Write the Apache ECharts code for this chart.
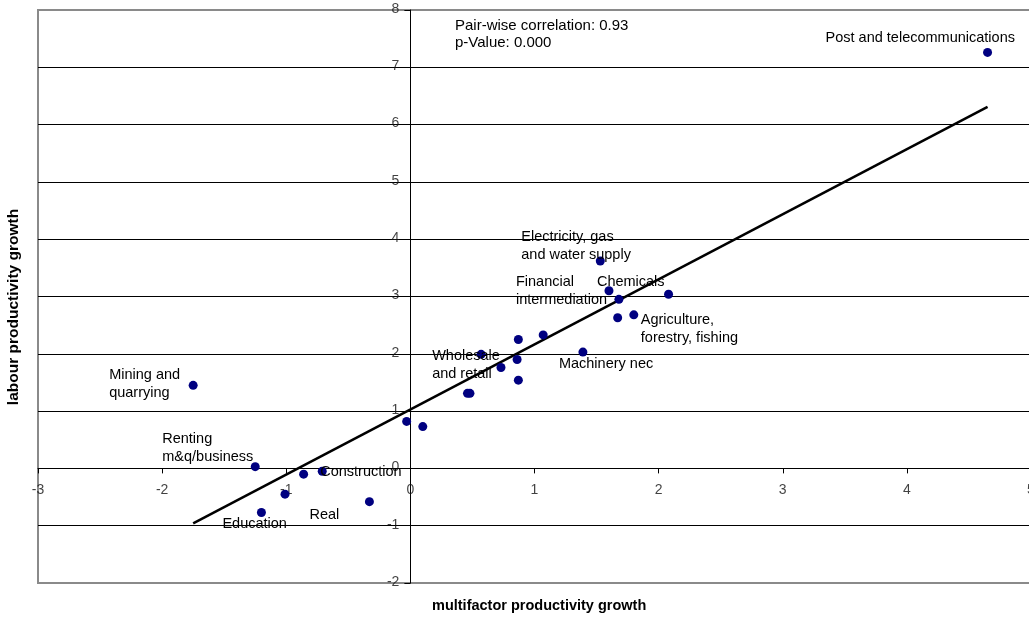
<!DOCTYPE html>
<html>
<head>
<meta charset="utf-8">
<script src="https://cdn.jsdelivr.net/npm/echarts@6/dist/echarts.min.js"></script>
<style>
html,body{margin:0;padding:0;background:#fff;}
#chart{width:1029px;height:618px;}
</style>
</head>
<body>
<div id="chart"></div>
<script>
// ---- data ----
const mfpGrowth = [4.65, -1.75, -1.25, -1.20, -1.01, -0.86, -0.71, -0.33, -0.03, 0.10, 0.46, 0.48, 0.57, 0.73, 0.87, 0.86, 0.87, 1.07, 1.39, 1.53, 1.60, 1.68, 1.67, 1.80, 2.08];
const labourGrowth = [7.26, 1.45, 0.03, -0.77, -0.45, -0.10, -0.05, -0.58, 0.82, 0.73, 1.31, 1.31, 1.99, 1.76, 2.25, 1.90, 1.54, 2.33, 2.03, 3.62, 3.10, 2.95, 2.63, 2.68, 3.04];
const industryNames = ["Post and telecommunications", "Mining and\nquarrying", "Renting\nm&q/business", "Education", "", "", "Construction", "Real", "", "", "", "", "Wholesale\nand retail", "", "", "", "", "", "Machinery nec", "Electricity, gas\nand water supply", "Financial\nintermediation", "Chemicals", "", "Agriculture,\nforestry, fishing", ""];
const trendX = [-1.75, 4.65];
const trendY = [-0.96, 6.31];
const statsText = ["Pair-wise correlation: 0.93", "p-Value: 0.000"];
const xTitle = "multifactor productivity growth";
const yTitle = "labour productivity growth";
const xTicks = [-3, -2, -1, 0, 1, 2, 3, 4, 5];
const yTicks = [-2, -1, 0, 1, 2, 3, 4, 5, 6, 7, 8];

// ---- label placement (style) ----
const labelOffsets = {
  "Post and telecommunications": [-162, -23],
  "Mining and\nquarrying": [-84, -19],
  "Renting\nm&q/business": [-93, -37],
  "Education": [-39, 2],
  "Construction": [-2, -8],
  "Real": [-60, 4],
  "Wholesale\nand retail": [-49, -7],
  "Machinery nec": [-24, 3],
  "Electricity, gas\nand water supply": [-79, -33],
  "Financial\nintermediation": [-93, -18],
  "Chemicals": [-22, -26],
  "Agriculture,\nforestry, fishing": [7, -4]
};

const font = 'Liberation Sans, Arial, sans-serif';

const scatterData = mfpGrowth.map((x, i) => {
  const name = industryNames[i];
  const item = { value: [x, labourGrowth[i]], name: name };
  if (name) {
    item.label = {
      show: true,
      position: 'inside',
      align: 'left',
      verticalAlign: 'top',
      offset: labelOffsets[name],
      formatter: name,
      color: '#000',
      fontSize: 14.5,
      lineHeight: 18,
      fontFamily: font
    };
  }
  return item;
});

const xLabelData = xTicks.map(t => ({ value: [t, 0], label: { formatter: String(t) } }));
const yLabelData = yTicks.map(t => ({ value: [0, t], label: { formatter: String(t) } }));

const chart = echarts.init(document.getElementById('chart'), null, { renderer: 'canvas' });
chart.setOption({
  animation: false,
  backgroundColor: '#fff',
  grid: { left: 38, top: 10, width: 993, bottom: 35, outerBoundsMode: 'none', containLabel: false, show: true, borderColor: '#8a8a8a', borderWidth: 2, backgroundColor: 'transparent' },
  xAxis: {
    type: 'value', min: xTicks[0], max: xTicks[xTicks.length - 1], interval: 1,
    axisLine: { onZero: true, lineStyle: { color: '#000', width: 1 } },
    axisTick: { show: true, length: 5, lineStyle: { color: '#000' } },
    axisLabel: { show: false },
    splitLine: { show: false }
  },
  yAxis: {
    type: 'value', min: yTicks[0], max: yTicks[yTicks.length - 1], interval: 1,
    axisLine: { onZero: true, lineStyle: { color: '#000', width: 1 } },
    axisTick: { show: true, length: 6, lineStyle: { color: '#000' } },
    axisLabel: { show: false },
    splitLine: { show: true, showMinLine: false, showMaxLine: false, lineStyle: { color: '#000', width: 1 } }
  },
  graphic: [
    { type: 'text', left: 455, top: 17, style: { text: statsText.join('\n'), fill: '#000', font: '15px ' + font, lineHeight: 17.5 } },
    { type: 'text', left: 432, top: 598, style: { text: xTitle, fill: '#000', font: 'bold 14.5px ' + font } },
    { type: 'text', x: 14, y: 307, rotation: Math.PI / 2, style: { text: yTitle, fill: '#000', font: 'bold 15.5px ' + font, align: 'center', verticalAlign: 'middle' } }
  ],
  series: [
    {
      type: 'line',
      data: trendX.map((x, i) => [x, trendY[i]]),
      showSymbol: false,
      symbol: 'none',
      lineStyle: { color: '#000', width: 2.5 },
      z: 3
    },
    {
      type: 'scatter',
      data: scatterData,
      symbol: 'circle',
      symbolSize: 9,
      itemStyle: { color: '#000080', opacity: 1 },
      z: 4
    },
    {
      type: 'scatter', silent: true, symbolSize: 0, data: xLabelData,
      label: { show: true, position: 'inside', offset: [0, 22], color: '#111', fontSize: 14, fontFamily: font, align: 'center', verticalAlign: 'middle' },
      z: 2
    },
    {
      type: 'scatter', silent: true, symbolSize: 0, data: yLabelData,
      label: { show: true, position: 'inside', offset: [-11, -1], color: '#111', fontSize: 14, fontFamily: font, align: 'right', verticalAlign: 'middle' },
      z: 2
    }
  ]
});
</script>
</body>
</html>
